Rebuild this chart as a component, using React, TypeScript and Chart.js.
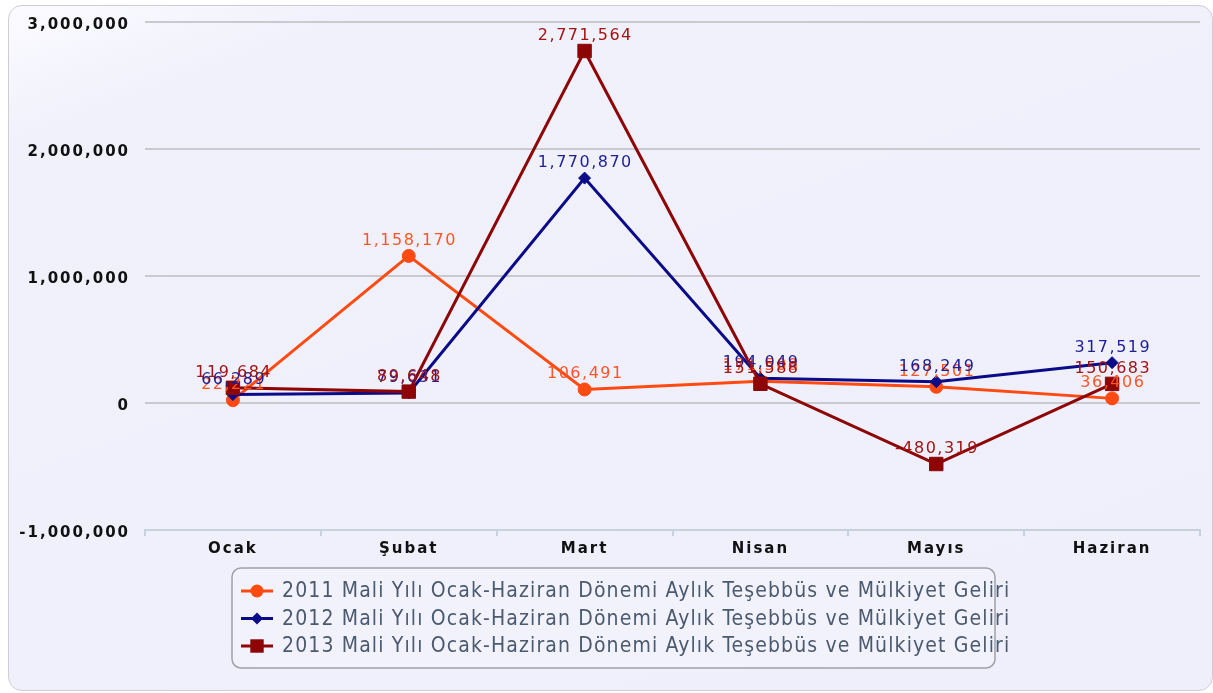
import React, { useEffect, useRef } from 'react';
import { Chart, registerables } from 'chart.js';

Chart.register(...registerables);

const months = ['Ocak', 'Şubat', 'Mart', 'Nisan', 'Mayıs', 'Haziran'];
const values2011 = [22221, 1158170, 106491, 171508, 127501, 36406];
const values2012 = [66289, 79631, 1770870, 194049, 168249, 317519];
const values2013 = [119684, 89648, 2771564, 151588, -480319, 150683];
const seriesNames = [
  '2011 Mali Yılı Ocak-Haziran Dönemi Aylık Teşebbüs ve Mülkiyet Geliri',
  '2012 Mali Yılı Ocak-Haziran Dönemi Aylık Teşebbüs ve Mülkiyet Geliri',
  '2013 Mali Yılı Ocak-Haziran Dönemi Aylık Teşebbüs ve Mülkiyet Geliri',
];
const yMin = -1000000;
const yMax = 3000000;
const yStep = 1000000;

const lineColors = ['#FF4A12', '#0B0B88', '#8E0505'];
const labelColors = ['#FF5526', '#1E1E95', '#A21414'];
const pointStyles = ['circle', 'rectRot', 'rect'];
const pointRadii = [6.5, 6, 9.5];

const fmt = (v: number) => v.toLocaleString('en-US');

const tickSpacingPlugin = {
  id: 'tickSpacing',
  beforeDraw(chart: any) {
    chart.ctx.letterSpacing = '2px';
  },
};

const valueLabelPlugin = {
  id: 'valueLabels',
  afterDatasetsDraw(chart: any) {
    const ctx = chart.ctx;
    ctx.save();
    ctx.font = '16px "DejaVu Sans"';
    ctx.letterSpacing = '1.5px';
    ctx.textAlign = 'center';
    ctx.textBaseline = 'alphabetic';
    chart.data.datasets.forEach((ds: any, i: number) => {
      const meta = chart.getDatasetMeta(i);
      ctx.fillStyle = labelColors[i];
      meta.data.forEach((pt: any, j: number) => {
        ctx.fillText(fmt(ds.data[j]), pt.x + 0.75, pt.y - 11);
      });
    });
    ctx.restore();
  },
};

function drawMarker(ctx: CanvasRenderingContext2D, style: string, x: number, y: number, r: number) {
  ctx.beginPath();
  if (style === 'circle') {
    ctx.arc(x, y, r, 0, Math.PI * 2);
  } else if (style === 'rectRot') {
    ctx.moveTo(x - r, y);
    ctx.lineTo(x, y - r);
    ctx.lineTo(x + r, y);
    ctx.lineTo(x, y + r);
    ctx.closePath();
  } else {
    const s = r * Math.SQRT1_2;
    ctx.rect(x - s, y - s, 2 * s, 2 * s);
  }
  ctx.fill();
}

const legendPlugin = {
  id: 'boxLegend',
  afterDraw(chart: any) {
    const ctx = chart.ctx as any;
    ctx.save();
    const bx = 223, by = 562, bw = 763, bh = 100;
    ctx.beginPath();
    ctx.roundRect(bx, by, bw, bh, 9);
    ctx.fillStyle = '#F2F2FD';
    ctx.fill();
    ctx.lineWidth = 1.5;
    ctx.strokeStyle = '#A0A0A8';
    ctx.stroke();
    const rows = [585, 612.5, 640];
    ctx.font = '21px "DejaVu Sans"';
    ctx.fontStretch = 'condensed';
    ctx.letterSpacing = '0px';
    const w = ctx.measureText(seriesNames[0]).width;
    const spacing = (728 - w) / seriesNames[0].length;
    ctx.letterSpacing = spacing.toFixed(2) + 'px';
    ctx.textAlign = 'left';
    ctx.textBaseline = 'middle';
    seriesNames.forEach((name, i) => {
      const y = rows[i];
      ctx.strokeStyle = lineColors[i];
      ctx.fillStyle = lineColors[i];
      ctx.lineWidth = 3;
      ctx.beginPath();
      ctx.moveTo(232, y);
      ctx.lineTo(264, y);
      ctx.stroke();
      drawMarker(ctx, pointStyles[i], 248, y, pointRadii[i]);
      ctx.fillStyle = '#4B5A6E';
      ctx.fillText(name, 273, y + 1);
    });
    ctx.restore();
    ctx.letterSpacing = '0px';
  },
};

export default function App() {
  const canvasRef = useRef<HTMLCanvasElement | null>(null);

  useEffect(() => {
    if (!canvasRef.current) return;
    const series = [values2011, values2012, values2013];
    const chart = new Chart(canvasRef.current, {
      type: 'line',
      data: {
        labels: months,
        datasets: series.map((vals, i) => ({
          label: seriesNames[i],
          data: vals,
          borderColor: lineColors[i],
          backgroundColor: lineColors[i],
          borderWidth: 3,
          tension: 0,
          fill: false,
          pointStyle: pointStyles[i] as any,
          pointRadius: pointRadii[i],
          pointBorderWidth: 1,
          pointBackgroundColor: lineColors[i],
          pointBorderColor: lineColors[i],
          order: 3 - i,
        })),
      },
      options: {
        responsive: false,
        animation: false,
        devicePixelRatio: 1,
        layout: { padding: { left: 0, right: 12, top: 16, bottom: 0 } },
        plugins: {
          legend: { display: false },
          tooltip: { enabled: false },
        },
        scales: {
          x: {
            type: 'category',
            offset: true,
            grid: {
              display: true,
              offset: true,
              drawOnChartArea: false,
              drawTicks: true,
              tickLength: 6,
              color: '#C6D2DE',
              lineWidth: 2,
            },
            border: { display: true, color: '#C6D2DE', width: 2 },
            ticks: {
              color: '#111111',
              font: { family: '"DejaVu Sans"', size: 15, weight: 'bold' },
              padding: 4,
              maxRotation: 0,
            },
            afterFit(scale: any) {
              scale.height = 160;
            },
          },
          y: {
            min: yMin,
            max: yMax,
            ticks: {
              stepSize: yStep,
              color: '#111111',
              font: { family: '"DejaVu Sans"', size: 15, weight: 'bold' },
              padding: 0,
              labelOffset: 3,
              callback: (v: any) => fmt(Number(v)),
            },
            grid: {
              color: '#CACACE',
              lineWidth: 2,
              drawTicks: true,
              tickLength: 15,
              tickColor: 'rgba(0,0,0,0)',
            },
            border: { display: false },
            afterFit(scale: any) {
              scale.width = 136;
            },
          },
        },
      },
      plugins: [tickSpacingPlugin, valueLabelPlugin, legendPlugin],
    } as any);
    return () => chart.destroy();
  }, []);

  return (
    <div
      style={{
        position: 'absolute',
        left: 8,
        top: 5,
        width: 1205,
        height: 686,
        boxSizing: 'border-box',
        border: '1px solid #CDCDD6',
        borderRadius: 14,
        overflow: 'hidden',
        background: 'linear-gradient(160deg, #FBFBFF 0%, #F1F1FC 12%, #EFEFFC 100%)',
      }}
    >
      <canvas ref={canvasRef} width={1203} height={684} style={{ display: 'block' }} />
    </div>
  );
}
